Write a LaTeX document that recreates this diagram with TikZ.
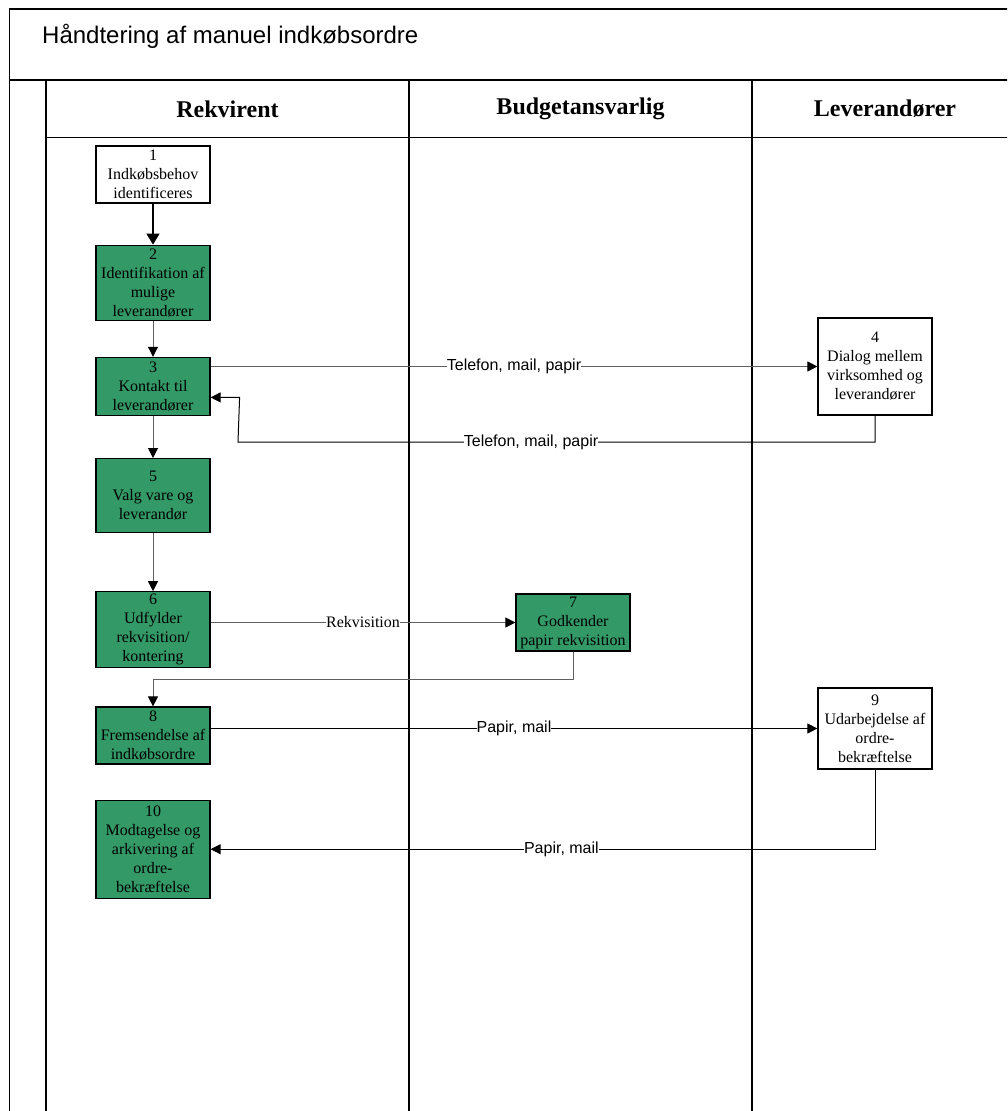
\documentclass[tikz,border=0pt]{standalone}
\usepackage{fontspec}
\setmainfont{Liberation Serif}
\setsansfont{Liberation Sans}
\usepackage{tikz}
\usetikzlibrary{arrows.meta,positioning,calc}

\definecolor{stepgreen}{RGB}{51,153,102}
\definecolor{flowgray}{RGB}{96,96,96}

\begin{document}
\begin{tikzpicture}[x=1pt, y=-1pt,
    every node/.style={font=\fontsize{16}{19}\selectfont},
    task/.style={draw, line width=1.2pt, align=center, minimum width=114pt, inner sep=1pt},
    green task/.style={task, fill=stepgreen},
    white task/.style={task, fill=white},
    lane/.style={line width=1.6pt},
    flow/.style={draw=flowgray, line width=1pt, -{Triangle[length=10pt,width=10pt,black]}},
    reply/.style={flow, draw=black},
    tag/.style={fill=white, text=black, inner sep=0pt, font=\sffamily\fontsize{16}{19}\selectfont}]

    \useasboundingbox (0,0) rectangle (1007,1111);
    \clip (0,0) rectangle (1007,1111);

    % Frame and lanes
    \draw[lane] (9.5,1120) -- (9.5,9) -- (1020,9);
    \draw[line width=2.2pt] (9.5,80) -- (1020,80);
    \draw[lane] (46,80) -- (46,1120);
    \draw[line width=1.4pt] (46,137.5) -- (1020,137.5);
    \draw[lane] (409,80) -- (409,1120);
    \draw[lane] (752,80) -- (752,1120);

    \node[anchor=base west, inner sep=0pt, font=\sffamily\fontsize{24}{28}\selectfont] (title) at (42,43) {Håndtering af manuel indkøbsordre};
    \node[font=\bfseries\fontsize{24}{28}\selectfont] (rekvirent) at (227.5,109) {Rekvirent};
    \node[font=\bfseries\fontsize{24}{28}\selectfont] (budget) at (580.5,109) {Budgetansvarlig};
    \node[font=\bfseries\fontsize{24}{28}\selectfont] (leverandor) at (885,109) {Leverandører};

    % Steps
    \node[white task, minimum height=57pt] (s1) at (153,174.5) {1\\Indkøbsbehov\\identificeres};
    \node[green task, minimum height=75pt, below=41pt of s1] (s2) {2\\Identifikation af\\mulige\\leverandører};
    \node[green task, minimum height=58pt, below=36pt of s2] (s3) {3\\Kontakt til\\leverandører};
    \node[green task, minimum height=74pt, below=42pt of s3] (s5) {5\\Valg vare og\\leverandør};
    \node[green task, minimum height=76pt, below=58pt of s5] (s6) {6\\Udfylder\\rekvisition/\\kontering};
    \node[green task, minimum height=57pt, below=38pt of s6] (s8) {8\\Fremsendelse af\\indkøbsordre};
    \node[green task, minimum height=98pt, below=35pt of s8] (s10) {10\\Modtagelse og\\arkivering af\\ordre-\\bekræftelse};
    \node[green task, minimum height=57pt] (s7) at (573,622.5) {7\\Godkender\\papir rekvisition};
    \node[white task, minimum height=97pt] (s4) at (875,366.5) {4\\Dialog mellem\\virksomhed og\\leverandører};
    \node[white task, minimum height=81pt] (s9) at (875,728.5) {9\\Udarbejdelse af\\ordre-\\bekræftelse};

    % Bends
    \coordinate (r4) at (238,442);
    \coordinate (r7) at (573,679);

    % Transitions
    \draw[reply, line width=1.5pt, -{Triangle[length=11pt,width=13pt,black]}] (s1) -- (s2);
    \draw[flow] (s2) -- (s3);
    \draw[flow] (s3) -- (s5);
    \draw[flow] (s5) -- (s6);
    \draw[flow] (s3.east |- s4.west) -- node[tag] {Telefon, mail, papir} (s4.west);
    \draw[reply] (s4.south) -- (s4.south |- r4) -- node[tag, pos=0.54] {Telefon, mail, papir} (r4) -- ($(s3.east)+(29,11)$) -- ($(s3.east)+(0,11)$);
    \draw[flow] (s6.east |- s7.west) -- node[tag, font=\rmfamily\fontsize{16}{19}\selectfont] {Rekvisition} (s7.west);
    \draw[flow] (s7.south) -- (r7) -| (s8.north);
    \draw[reply] (s8.east |- s9.west) -- node[tag] {Papir, mail} (s9.west);
    \draw[reply] (s9.south) |- node[tag, pos=0.736] {Papir, mail} (s10.east);

\end{tikzpicture}
\end{document}
